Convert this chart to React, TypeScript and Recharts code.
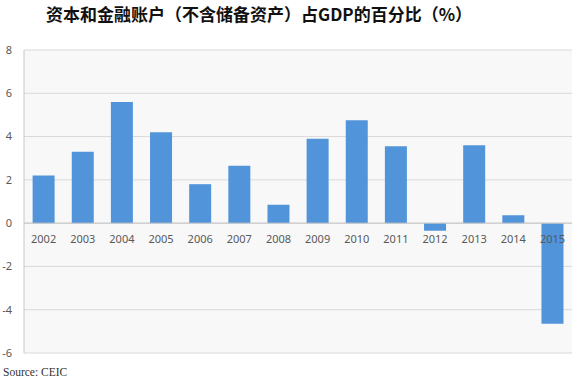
import React from "react";
import { BarChart, Bar, XAxis, YAxis, CartesianGrid, ReferenceLine, LabelList } from "recharts";

const years = ["2002", "2003", "2004", "2005", "2006", "2007", "2008", "2009", "2010", "2011", "2012", "2013", "2014", "2015"];
const values = [2.2, 3.3, 5.6, 4.2, 1.8, 2.65, 0.85, 3.9, 4.75, 3.55, -0.35, 3.6, 0.37, -4.65];
const yTicks = [-6, -4, -2, 0, 2, 4, 6, 8];

const titleText = "资本和金融账户（不含储备资产）占GDP的百分比（%）";
const sourceText = "Source: CEIC";

const data = years.map((year, i) => ({ year, value: values[i] }));

const YearLabel = (props: any) => {
  const vb = props.viewBox || props;
  const x = Number(vb.x);
  const y = Number(vb.y);
  const w = Number(vb.width);
  const h = Number(vb.height);
  const idx = props.index;
  const v = values[idx];
  const zero = v >= 0 ? y + h : h < 0 ? y + h : y;
  return (
    <text
      x={x + w / 2}
      y={zero + 20}
      textAnchor="middle"
      fontSize={11}
      fontFamily="'Noto Sans', sans-serif"
      fill="#595959"
    >
      {years[idx]}
    </text>
  );
};

export default function App() {
  return (
    <div style={{ position: "absolute", left: 0, top: 0, width: 578, height: 381, background: "#ffffff" }}>
      <div
        style={{
          position: "absolute",
          left: 0,
          top: 3,
          width: 518,
          textAlign: "center",
          fontFamily: "'Noto Sans CJK SC', sans-serif",
          fontWeight: 700,
          fontSize: 17,
          lineHeight: "22px",
          color: "#111111",
          whiteSpace: "nowrap",
        }}
      >
        {titleText}
      </div>
      <BarChart
        width={578}
        height={381}
        data={data}
        margin={{ top: 50, right: 6, bottom: 28, left: 0 }}
        barCategoryGap="22%"
      >
        <CartesianGrid horizontal vertical={false} stroke="#d9d9d9" fill="#f8f8f8" />
        <XAxis dataKey="year" hide />
        <YAxis
          domain={[-6, 8]}
          ticks={yTicks}
          width={24}
          tickLine={false}
          tickSize={6}
          tickMargin={6}
          axisLine={{ stroke: "#c8c8c8" }}
          tick={{ fontSize: 11, fill: "#595959", fontFamily: "'Noto Sans', sans-serif" }}
          interval={0}
        />
        <YAxis
          yAxisId="r"
          orientation="right"
          domain={[-6, 8]}
          ticks={yTicks}
          width={0}
          tick={false}
          tickLine={false}
          axisLine={{ stroke: "#c8c8c8" }}
        />
        <ReferenceLine y={0} stroke="#c8c8c8" />
        <Bar dataKey="value" fill="#5294d9" isAnimationActive={false}>
          <LabelList dataKey="year" content={YearLabel} />
        </Bar>
      </BarChart>
      <div
        style={{
          position: "absolute",
          left: 3,
          top: 364,
          fontFamily: "'Liberation Serif', 'Times New Roman', serif",
          fontSize: 11.5,
          lineHeight: "16px",
          color: "#333333",
          whiteSpace: "nowrap",
        }}
      >
        {sourceText}
      </div>
    </div>
  );
}
